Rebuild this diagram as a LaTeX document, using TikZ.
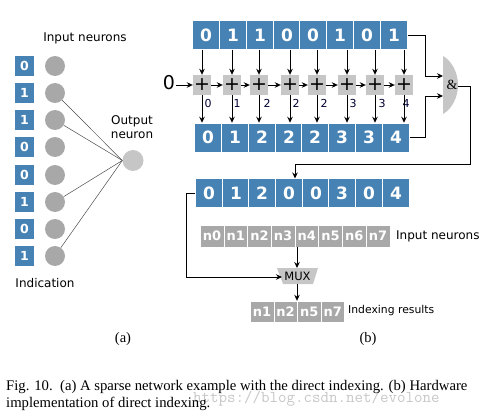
\documentclass[tikz,border=0pt]{standalone}
\usepackage{fontspec}
\setmainfont{Liberation Serif}
\newfontfamily\djvu{DejaVu Sans}
\usetikzlibrary{arrows.meta}
\definecolor{bitblue}{HTML}{4682B4}
\definecolor{cellgray}{HTML}{A8A8A8}
\definecolor{addgray}{HTML}{C6C6C6}
\tikzset{
  bit/.style={fill=bitblue,draw=white,line width=0.5pt,minimum width=26.8pt,minimum height=29pt,inner sep=0pt,text=white,font=\djvu\bfseries\fontsize{17}{17}\selectfont},
  smallbit/.style={fill=bitblue,draw=none,minimum width=19pt,minimum height=20pt,inner sep=0pt,text=white,font=\djvu\bfseries\fontsize{12.5}{12.5}\selectfont},
  neuron/.style={circle,fill=cellgray,draw=none,minimum size=20pt,inner sep=0pt},
  adder/.style={fill=addgray,draw=none,minimum width=18pt,minimum height=20pt,inner sep=0pt,font=\djvu\fontsize{19}{19}\selectfont},
  cell/.style={fill=cellgray,draw=white,line width=0.4pt,minimum width=23.7pt,minimum height=21.5pt,inner sep=0pt,text=white,font=\djvu\bfseries\fontsize{13}{13}\selectfont},
  lab/.style={font=\djvu\fontsize{12}{14.5}\selectfont,inner sep=0pt,align=center},
  sum/.style={font=\djvu\fontsize{11}{11}\selectfont,inner sep=0pt,text=black!80!blue},
  captxt/.style={font=\fontsize{14.7}{15}\selectfont,inner sep=0pt,anchor=base west},
  subcap/.style={font=\fontsize{14.5}{15}\selectfont,inner sep=0pt},
  wire/.style={draw=black,line width=0.9pt,-{Stealth[length=6pt,width=5.5pt]}},
  syn/.style={draw=black!70,line width=0.5pt}
}
\begin{document}
\begin{tikzpicture}[x=1pt,y=-1pt]
\useasboundingbox (0,0) rectangle (492,414);
% (a)
\node[lab] (inlab) at (85,38) {Input neurons};
\node[lab] (outlab) at (132,127) {Output\\neuron};
\node[lab] (indlab) at (45,283) {Indication};
\foreach \i/\y/\v in {1/66/0,2/93/1,3/120/1,4/147/0,5/175/0,6/202/1,7/229/0,8/256/1}{
  \node[smallbit] (s\i) at (24.5,\y) {\v};
  \node[neuron] (c\i) at (55,\y) {};
}
\node[neuron,fill=addgray,minimum size=21pt] (o) at (133,160.5) {};
\foreach \i in {2,3,6,8} \draw[syn] (c\i) -- (o.west);
% (b) rows
\foreach \i/\x/\v in {1/206/0,2/233/1,3/260/1,4/287/0,5/313/0,6/340/1,7/367/0,8/394/1}
  \node[bit] (t\i) at (\x,35) {\v};
\foreach \i/\x in {1/202,2/232,3/259,4/290,5/317,6/347,7/375,8/404}
  \node[adder] (a\i) at (\x,85) {+};
\foreach \i/\x/\v in {1/208/0,2/235/1,3/262/2,4/289/2,5/315/2,6/342/3,7/369/3,8/396/4}
  \node[bit] (b\i) at (\x,137.5) {\v};
\foreach \i/\x/\v in {1/208/0,2/237/1,3/267/2,4/296/2,5/324/2,6/353/3,7/382/3,8/406/4}
  \node[sum] (l\i) at (\x,103) {\v};
\foreach \i in {1,...,8}{
  \draw[wire] (a\i |- t\i.south) -- (a\i.north);
  \draw[wire] (a\i.south) -- (a\i |- b\i.north);
}
\node[font=\djvu\fontsize{19}{19}\selectfont,inner sep=0pt] (zero) at (169,83) {0};
\coordinate (z0) at (176,85);
\draw[wire] (z0) -- (a1.west);
\foreach \i/\j in {1/2,2/3,3/4,4/5,5/6,6/7,7/8}
  \draw[wire] (a\i.east) -- (a\j.west);
% gate
\fill[addgray] (443,56) .. controls (452,61) and (458,73) .. (458,85) .. controls (458,97) and (452,109) .. (443,114) -- cycle;
\coordinate (gt) at (443,76);
\coordinate (gb) at (443,96);
\coordinate (gout) at (458,86);
\node[font=\fontsize{14}{14}\selectfont,inner sep=0pt] (gl) at (452,85) {\&};
\draw[wire] (t8.east) -- (425,35) -- (425,76) -- (gt);
\draw[wire] (b8.east) -- (425,137.5) -- (425,96) -- (gb);
% result row
\foreach \i/\x/\v in {1/209/0,2/236/1,3/262/2,4/289/0,5/316/0,6/342/3,7/369/0,8/396/4}
  \node[bit] (r\i) at (\x,193) {\v};
\draw[wire] (gout) -- (470,86) -- (470,164) -- (295,164) -- (295,178.5);
% neurons
\foreach \i/\x/\v in {0/212/n0,1/235.7/n1,2/259.4/n2,3/283.1/n3,4/306.8/n4,5/330.5/n5,6/354.2/n6,7/377.9/n7}
  \node[cell] (n\i) at (\x,236) {\v};
\node[lab,anchor=west] (nlab) at (396,236) {Input neurons};
\path (277,268) coordinate (m1) (318,268) coordinate (m2) (313,284) coordinate (m3) (283,284) coordinate (m4);
\fill[addgray] (m1) -- (m2) -- (m3) -- (m4) -- cycle;
\node[font=\djvu\fontsize{11.5}{11.5}\selectfont,inner sep=0pt] (mux) at (297.5,276) {MUX};
\coordinate (mt) at (297,268);
\coordinate (mb) at (297,284);
\coordinate (ml) at (282,277);
\draw[wire] (r1.west) -- (186,193) -- (186,277) -- (ml);
\draw[wire] (n4.south -| mt) -- (mt);
\foreach \i/\x/\v in {1/262/n1,2/285.6/n2,3/309.2/n5,4/332.8/n7}
  \node[cell,minimum height=21pt] (q\i) at (\x,311.5) {\v};
\draw[wire] (mb) -- (mb |- q2.north);
\node[lab,anchor=west,font=\djvu\fontsize{10.8}{12}\selectfont] (qlab) at (348,311) {Indexing results};
% captions
\node[subcap] (capa) at (123,339) {(a)};
\node[subcap] (capb) at (368,339) {(b)};
\node[inner sep=0pt,anchor=base west,text=black!22,font=\ttfamily\fontsize{16.5}{16}\selectfont] (wm) at (193,402) {https://blog.csdn.net/evolone};
\node[captxt] (cap1) at (6,390) {Fig. 10.\ \ (a) A sparse network example with the direct indexing. (b) Hardware};
\node[captxt] (cap2) at (6,407) {implementation of direct indexing.};
\end{tikzpicture}
\end{document}
